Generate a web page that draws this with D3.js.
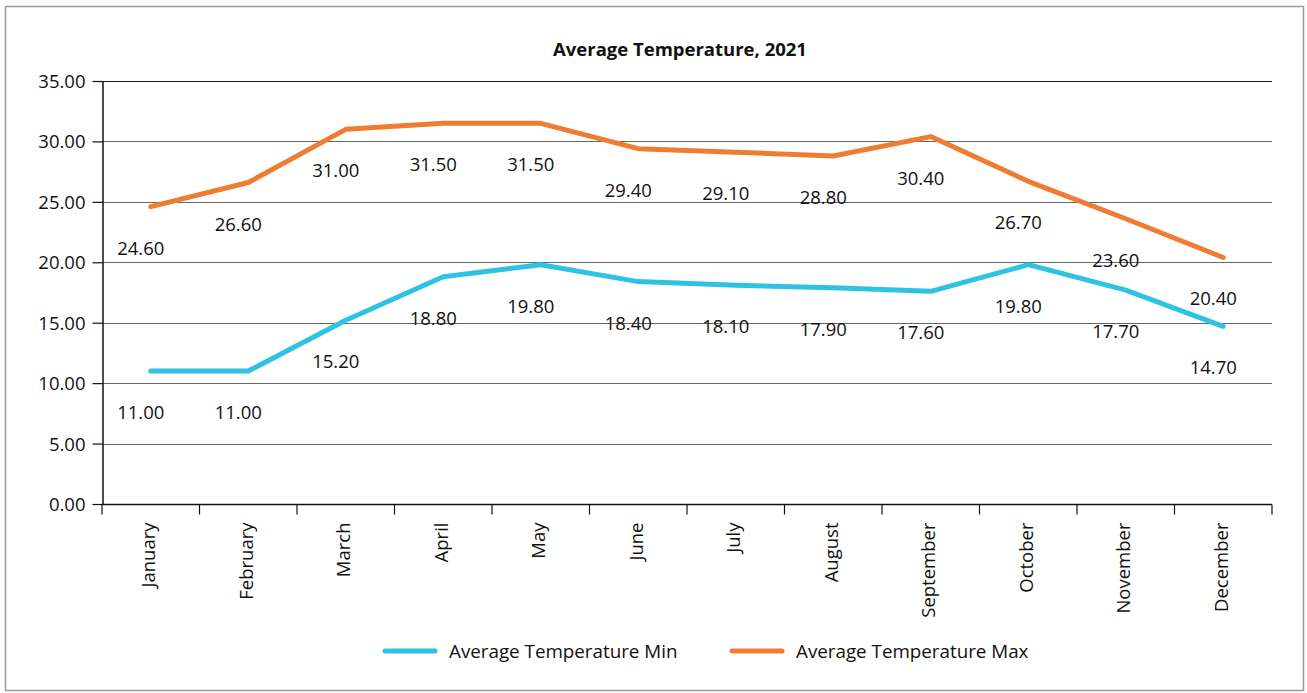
<!DOCTYPE html>
<html>
<head>
<meta charset="utf-8">
<script src="https://cdn.jsdelivr.net/npm/d3@7"></script>
<style>
  html, body { margin: 0; padding: 0; background: #fff; }
  svg { display: block; }
  text { font-family: "Open Sans", "Liberation Sans", sans-serif; fill: #111; }
</style>
</head>
<body>
<svg id="chart" width="1307" height="693"></svg>
<script>
const months = ["January","February","March","April","May","June","July","August","September","October","November","December"];
const tempMin = [11.00, 11.00, 15.20, 18.80, 19.80, 18.40, 18.10, 17.90, 17.60, 19.80, 17.70, 14.70];
const tempMax = [24.60, 26.60, 31.00, 31.50, 31.50, 29.40, 29.10, 28.80, 30.40, 26.70, 23.60, 20.40];
const yTicks = [0, 5, 10, 15, 20, 25, 30, 35];
const seriesNames = ["Average Temperature Min", "Average Temperature Max"];
const seriesColors = ["#2ec3e3", "#ee7d33"];
const title = "Average Temperature, 2021";

const svg = d3.select("#chart");
const plot = { left: 102, right: 1272, top: 81, bottom: 504 };

// outer frame
svg.append("rect").attr("x", 5.5).attr("y", 6.5).attr("width", 1298).attr("height", 684)
  .attr("fill", "none").attr("stroke", "#9a9a9a").attr("stroke-width", 1.5);

const x = d3.scaleBand().domain(months).range([plot.left, plot.right]).padding(0);
const y = d3.scaleLinear().domain([0, 35]).range([plot.bottom, plot.top]);

// title
svg.append("text").attr("x", 680).attr("y", 56).attr("text-anchor", "middle")
  .style("font-weight", "bold").style("font-size", "18.5px").text(title);

// gridlines
svg.append("g").selectAll("line").data(yTicks.filter(d => d > 0)).join("line")
  .attr("x1", plot.left).attr("x2", plot.right)
  .attr("y1", d => Math.round(y(d)) + 0.5).attr("y2", d => Math.round(y(d)) + 0.5)
  .attr("stroke", d => d === 35 ? "#222" : "#666").attr("stroke-width", 1.2);

// y axis
const yAxis = svg.append("g").attr("transform", `translate(${plot.left + 0.5},0)`)
  .call(d3.axisLeft(y).tickValues(yTicks).tickFormat(d3.format(".2f")).tickSize(10).tickSizeOuter(0));
yAxis.select(".domain").attr("stroke", "#111").attr("stroke-width", 1.5);
yAxis.selectAll(".tick line").attr("stroke", "#111").attr("stroke-width", 1.2);
yAxis.selectAll(".tick text").attr("x", -17).attr("dy", "0.35em")
  .style("font-size", "18.5px").style("font-family", "'Open Sans', sans-serif").attr("fill", "#111");

// x axis: boundary ticks
const xg = svg.append("g").attr("transform", `translate(0,${plot.bottom + 0.5})`);
xg.append("line").attr("x1", plot.left).attr("x2", plot.right).attr("stroke", "#111").attr("stroke-width", 1.5);
const bounds = months.map(m => x(m)).concat([x(months[months.length - 1]) + x.bandwidth()]);
xg.selectAll("line.b").data(bounds).join("line").attr("class", "b")
  .attr("x1", d => d).attr("x2", d => d).attr("y1", 0).attr("y2", 10)
  .attr("stroke", "#111").attr("stroke-width", 1.2);
xg.selectAll("text.m").data(months).join("text").attr("class", "m")
  .attr("transform", d => `translate(${x(d) + x.bandwidth() / 2 - 2},18) rotate(-90)`)
  .attr("text-anchor", "end").attr("dy", "0.35em")
  .style("font-size", "18.5px").text(d => d);

// lines
const line = d3.line().x((d, i) => x(months[i]) + x.bandwidth() / 2).y(d => y(d));
[tempMin, tempMax].forEach((arr, k) => {
  svg.append("path").datum(arr).attr("d", line).attr("fill", "none")
    .attr("stroke", seriesColors[k]).attr("stroke-width", 5)
    .attr("stroke-linejoin", "round").attr("stroke-linecap", "round");
});

// data labels
[tempMin, tempMax].forEach(arr => {
  svg.append("g").selectAll("text").data(arr).join("text")
    .attr("x", (d, i) => x(months[i]) + x.bandwidth() / 2 - 10)
    .attr("y", d => y(d) + 48)
    .attr("text-anchor", "middle").style("font-size", "18.5px")
    .text(d => d3.format(".2f")(d));
});

// legend
const legendX = [383, 730];
seriesNames.forEach((name, k) => {
  const g = svg.append("g").attr("transform", `translate(${legendX[k]},651)`);
  g.append("line").attr("x1", 2).attr("x2", 52).attr("y1", 0).attr("y2", 0)
    .attr("stroke", seriesColors[k]).attr("stroke-width", 5).attr("stroke-linecap", "round");
  g.append("text").attr("x", 66).attr("y", 7).style("font-size", "18.8px").text(name);
});
</script>
</body>
</html>
